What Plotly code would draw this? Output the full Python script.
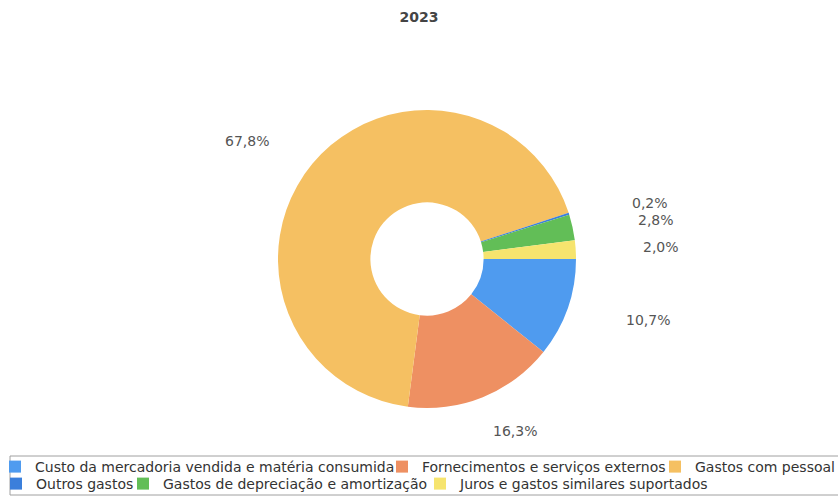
import math
import plotly.graph_objects as go

categories = [
    "Custo da mercadoria vendida e matéria consumida",
    "Fornecimentos e serviços externos",
    "Gastos com pessoal",
    "Outros gastos",
    "Gastos de depreciação e amortização",
    "Juros e gastos similares suportados",
]
values = [10.7, 16.3, 67.8, 0.2, 2.8, 2.0]
colors = ["#4F9BEF", "#EE9062", "#F5C062", "#3B7FDB", "#62BE57", "#F6E46E"]
title_text = "2023"

W, H = 838, 497
cx, cy, R = 427, 259, 149
rx_lab, ry_lab = 234, 185

# legend layout (pixel positions of each entry's text start and row centre)
legend_text_x = [32, 419, 692, 33, 160, 457]
legend_row_y = [467, 467, 467, 484, 484, 484]

fig = go.Figure()
fig.add_trace(go.Pie(
    labels=categories,
    values=values,
    marker=dict(colors=colors, line=dict(width=0)),
    hole=0.38,
    sort=False,
    direction="clockwise",
    rotation=90,
    textinfo="none",
    hoverinfo="label+percent",
    showlegend=False,
    domain=dict(x=[(cx - R) / W, (cx + R) / W], y=[1 - (cy + R) / H, 1 - (cy - R) / H]),
))

# legend entries, one per category, laid out as in the original two-row legend box
legend_layouts = {}
for i, (cat, col) in enumerate(zip(categories, colors)):
    lid = "legend" if i == 0 else f"legend{i + 1}"
    fig.add_trace(go.Scatter(
        x=[None], y=[None], mode="markers", name=cat,
        marker=dict(symbol="square", size=12, color=col),
        legend=lid, hoverinfo="skip", showlegend=True,
    ))
    legend_layouts[lid] = dict(
        x=(legend_text_x[i] - 37) / W, y=1 - legend_row_y[i] / H,
        xanchor="left", yanchor="middle",
        bgcolor="rgba(0,0,0,0)", borderwidth=0,
        font=dict(family="DejaVu Sans", size=14, color="#333333"),
        itemclick=False, itemdoubleclick=False,
    )

total = sum(values)
annotations = []
cum = 0.0
for v in values:
    mid = (cum + v / 2) / total
    cum += v
    th = 2 * math.pi * mid
    xp = cx + rx_lab * math.cos(th)
    yp = cy + ry_lab * math.sin(th)
    annotations.append(dict(
        x=xp / W, y=1 - yp / H, xref="paper", yref="paper",
        text=f"{v:.1f}".replace(".", ",") + "%",
        showarrow=False, xanchor="center", yanchor="middle",
        font=dict(family="DejaVu Sans", size=14, color="#555555"),
    ))

fig.update_layout(
    width=W, height=H,
    margin=dict(l=0, r=0, t=0, b=0, autoexpand=False),
    paper_bgcolor="white",
    plot_bgcolor="white",
    xaxis=dict(visible=False),
    yaxis=dict(visible=False),
    title=dict(text=f"<b>{title_text}</b>", x=0.5, xanchor="center", y=1 - 17 / H, yanchor="middle",
               font=dict(family="DejaVu Sans", size=14, color="#444444")),
    annotations=annotations,
    shapes=[dict(type="rect", xref="paper", yref="paper",
                 x0=10 / W, x1=1.05, y0=1 - 495 / H, y1=1 - 456 / H,
                 line=dict(color="#a0a0a0", width=1), fillcolor="rgba(0,0,0,0)", layer="below")],
    **legend_layouts,
)

fig.write_html("out.html", config={"displayModeBar": False},
               post_script="document.body.style.margin='0';")
